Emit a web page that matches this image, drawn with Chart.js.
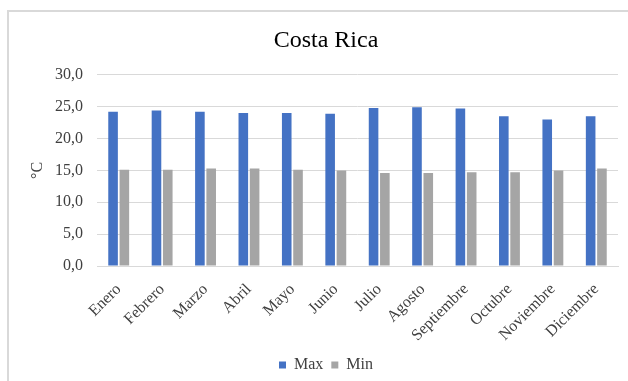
<!DOCTYPE html>
<html>
<head>
<meta charset="utf-8">
<script src="https://cdn.jsdelivr.net/npm/chart.js@4/dist/chart.umd.min.js"></script>
<style>
  html, body { margin: 0; padding: 0; background: #fff; }
  #wrap { position: relative; width: 628px; height: 381px; }
  #frame { position: absolute; left: 7px; top: 10px; width: 640px; height: 400px;
           border-top: 2px solid #D9D9D9; border-left: 2px solid #D9D9D9; box-sizing: border-box; }
  canvas { position: absolute; left: 0; top: 0; }
</style>
</head>
<body>
<div id="wrap">
  <div id="frame"></div>
  <canvas id="c" width="628" height="381"></canvas>
</div>
<script>
const months = ["Enero","Febrero","Marzo","Abril","Mayo","Junio","Julio","Agosto","Septiembre","Octubre","Noviembre","Diciembre"];
const maxTemp = [24.2, 24.4, 24.2, 24.0, 24.0, 23.9, 24.8, 24.9, 24.7, 23.5, 23.0, 23.5];
const minTemp = [15.1, 15.1, 15.3, 15.3, 15.1, 15.0, 14.6, 14.6, 14.7, 14.7, 15.0, 15.3];
const chartTitle = "Costa Rica";
const yTitle = "°C";

const serif = "'Liberation Serif', 'Times New Roman', serif";
const tickColor = "#404040";

new Chart(document.getElementById('c'), {
  type: 'bar',
  data: {
    labels: months,
    datasets: [
      { label: 'Max', data: maxTemp, backgroundColor: '#4472C4', borderWidth: 0,
        barPercentage: 0.85, categoryPercentage: 0.52 },
      { label: 'Min', data: minTemp, backgroundColor: '#A5A5A5', borderWidth: 0,
        barPercentage: 0.85, categoryPercentage: 0.52 }
    ]
  },
  options: {
    responsive: false,
    animation: false,
    devicePixelRatio: 1,
    layout: { padding: { left: 34, right: 10, top: 22, bottom: -2 } },
    plugins: {
      title: { display: true, text: chartTitle, color: '#000',
               font: { family: serif, size: 24, weight: 'normal' },
               padding: { top: 4, bottom: 20 } },
      legend: { position: 'bottom',
                labels: { boxWidth: 7, boxHeight: 7, color: tickColor, padding: 8,
                          font: { family: serif, size: 16 } } },
      tooltip: { enabled: false }
    },
    scales: {
      x: {
        grid: { display: false, drawTicks: false },
        border: { display: true, color: '#D9D9D9', width: 1 },
        ticks: { color: tickColor, font: { family: serif, size: 16 },
                 maxRotation: 45, minRotation: 45, padding: 14 },
        afterFit: (s) => { s.height = 83; }
      },
      y: {
        min: 0, max: 30,
        grid: { color: '#D9D9D9', lineWidth: 1, drawTicks: false },
        border: { display: false },
        ticks: { stepSize: 5, color: tickColor, padding: 14,
                 font: { family: serif, size: 16 },
                 callback: (v) => v.toFixed(1).replace('.', ',') },
        title: { display: true, text: yTitle, color: tickColor,
                 font: { family: serif, size: 16 }, padding: { top: -6, bottom: 0 } },
        afterFit: (s) => { s.width = 63; }
      }
    }
  }
});
</script>
</body>
</html>
